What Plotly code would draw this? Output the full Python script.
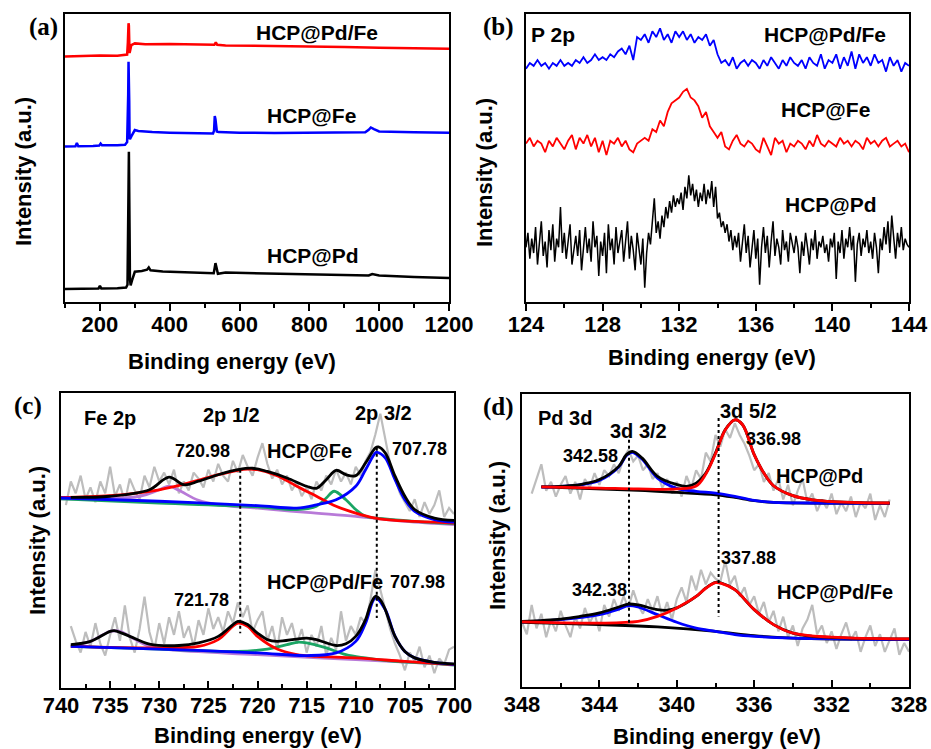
import numpy as np
import plotly.graph_objects as go

# ======================= DATA =======================
# ---- (a) survey spectra (x: eV, y: relative intensity 0-100) ----
a_red_x = [100,150,200,250,270,278,280,281,282,283,284,285,287,290,300,330,400,500,528,532,536,560,600,700,800,900,1000,1100,1200]
a_red_y = [85.2,85.4,85.6,85.5,85.7,85.9,90,95,96.8,96,91,86.5,87.5,89.2,89.8,89.5,89.6,89.3,89.3,90.2,89.3,89.1,89.0,88.8,88.6,88.5,88.3,88.1,87.9]
a_blue_x = [100,130,134,138,180,198,202,206,250,272,278,280,281,282,283,284,285,286,290,300,310,350,400,450,500,524,527,529,531,533,535,540,560,600,700,800,900,960,970,976,985,1000,1100,1200]
a_blue_y = [54.0,54.1,55.2,54.1,54.2,54.3,55.0,54.4,54.4,54.6,55.5,62,72,83.4,80,70,57,56.5,57.5,59.7,59.4,59.0,58.8,58.7,58.6,58.5,59.5,64.6,63.5,60,59.2,59.0,58.9,58.8,58.7,58.8,58.7,58.9,59.8,60.6,60.0,59.2,58.9,58.8]
a_black_x = [100,150,196,200,204,250,275,279,281,282,283,284,285,286,288,292,300,320,335,340,345,380,450,510,526,529,531,534,538,560,600,700,800,900,970,980,1000,1100,1200]
a_black_y = [4.5,4.6,4.7,5.6,4.7,4.8,5.0,6.0,20,40,52.2,45,25,8,5.8,7.5,10.5,10.8,11.2,12.0,11.0,10.6,10.3,10.1,10.0,12,13.5,12,9.8,10.2,10.1,9.8,9.6,9.3,9.2,9.7,9.2,8.7,8.3]

# ---- (b) P 2p ----
b_start = 124.0
b_blue_y = [81,83,82,84,82,83,81,83,82,84,82,
            83,82,84,83,85,83,84,86,84,85,
            84,86,85,87,88,86,89,84,92,
            91,93,90,94,92,95,91,93,90,94,
            92,94,91,93,90,92,91,93,89,91,
            86,83,84,82,85,81,83,84,82,84,
            83,81,84,82,85,83,81,84,82,85,
            83,82,84,81,85,83,82,86,81,84,
            83,86,81,85,82,87,81,86,83,85,
            82,86,83,84,80,85,82,84,80,83,82]
b_red_y = [55,57,54,56,55,52,56,54,57,55,53,
           56,58,53,57,55,58,54,57,52,56,
           51,56,55,57,54,56,53,52,55,
           56,57,56,60,59,63,61,66,69,70,
           71,73,74,71,70,68,64,66,61,59,
           57,59,54,53,56,58,55,54,56,55,
           53,52,57,54,51,57,55,56,52,55,
           54,56,55,53,56,54,58,55,54,56,
           55,54,57,55,56,54,56,55,53,57,
           55,56,54,56,57,54,55,56,54,55,52]
b_black_y = [19,24,15,22,17,26,13,20,28,16,
             21,12,25,18,27,14,22,19,33,17,
             24,15,21,27,13,19,23,16,25,11,
             20,26,17,22,14,28,19,23,9,21,
             16,24,10,27,18,22,13,26,17,21,
             25,14,20,28,15,23,18,11,24,19,
             13,22,5,17,24,20,27,36,24,28,
             22,30,26,33,29,35,31,37,33,36,
             34,38,32,40,36,44,37,41,35,39,
             33,38,35,41,34,39,36,42,33,40,
             29,31,26,28,24,27,21,25,18,23,
             19,24,14,22,27,17,23,12,20,25,
             15,22,6,19,26,17,23,12,21,28,
             16,22,19,13,25,18,21,14,24,20,
             17,23,19,10,21,16,24,19,13,22,
             18,25,15,21,19,23,17,20,14,22,
             19,24,8,21,17,25,15,22,19,26,
             18,23,7,20,24,16,22,19,25,17,
             21,15,24,19,10,22,18,26,20,28,
             17,30,21,15,24,19,26,18,22,20,
             19]

# ---- (c) Fe 2p ----
c_up_raw_start = 739.5
c_up_raw_y = [62,70,66,72,64,68,63,70,66,75,65,69,63,71,67,64,72,68,75,70,
              73,69,74,66,70,67,73,71,68,74,70,76,72,70,77,73,79,75,72,78,
              83,76,71,74,69,72,67,70,65,68,64,70,67,72,69,74,70,73,69,75,
              72,77,80,86,93,84,76,71,66,63,60,64,58,63,59,62,67,58,61,59]
c_up_env_x = [739,735,731,729,727.5,726,724,722,720.5,719,717,715,714,713,712,711,710,709,708,707.7,707,706,705,704,702,700]
c_up_env_y = [64.6,65.0,67.2,71.5,68.9,70.1,72.3,74.0,74.5,73.4,71.2,68.4,67.7,70.6,73.8,72.3,72.0,76.3,81.4,81.7,79.7,71.8,65.0,60.5,57.6,56.8]
c_up_red_x = [740,735,730,727,724,722,721,720,718,716,714,712,710,708,706,704,702,700]
c_up_red_y = [64.6,65.2,67.2,69.5,72.3,73.8,74.2,74.0,72.0,68.4,65.0,61.6,59.3,57.6,56.8,56.5,56.2,55.9]
c_up_blue_x = [740,730,720,716,714,712,710,709,708,707.8,707,706,705,704,702,700]
c_up_blue_y = [64.4,63.3,61.8,61.0,62.1,63.8,68.4,74.0,79.7,79.9,78.0,70.6,63.8,59.9,57.1,56.2]
c_up_green_x = [740,730,720,716,714,713,712.2,711,710,709,707,704,700]
c_up_green_y = [64.1,62.7,61.4,60.5,61.6,64.4,66.7,63.8,60.5,58.2,57.3,56.5,55.7]
c_up_purple_x = [740,732,730,729,728,726,724,720,715,710,705,700]
c_up_purple_y = [64.1,65.0,67.2,68.4,67.0,63.6,62.1,61.0,59.5,58.2,56.5,55.4]

c_lo_raw_start = 739.0
c_lo_raw_y = [21,16,12,19,14,22,15,11,18,24,16,28,17,12,20,31,19,13,22,15,
              24,18,26,17,21,14,23,18,27,20,24,19,26,22,29,24,28,19,23,26,
              16,21,13,24,18,22,15,20,12,18,14,21,11,17,13,26,16,21,18,24,
              22,30,40,33,27,20,15,11,6,12,9,14,7,11,5,10,8,13,14]
c_lo_env_x = [739,737,735,734.5,733,731,728,726,724,722.5,722,721,720,719,718,716,715,714,713,712,711,710,709,708.5,708,707.5,707,706,705,704,702,700]
c_lo_env_y = [14.7,15.8,19.2,19.4,17.5,14.9,14.4,15.3,17.5,21.5,22.6,21.5,18.6,16.4,15.8,16.6,16.9,16.4,15.3,14.4,15.0,17.5,23.2,28.2,31.1,29.9,26.6,17.5,12.4,10.2,8.7,8.2]
c_lo_red_x = [739,730,726,724,722,721,720,718,716,714,710,705,700]
c_lo_red_y = [14.1,13.6,14.1,16.4,22.0,20.9,17.5,13.2,11.3,10.7,10.2,9.0,7.9]
c_lo_blue_x = [739,730,720,715,712,710,709,708,707,706,705,704,702,700]
c_lo_blue_y = [14.1,13.2,11.9,11.0,11.9,15.8,22.0,30.5,26.6,17.5,12.4,10.2,8.7,8.0]
c_lo_green_x = [739,730,722,719,717,716,715,713,711,709,706,703,700]
c_lo_green_y = [14.1,13.2,12.4,13.2,14.7,15.5,15.3,13.6,11.3,10.2,9.0,8.5,7.8]
c_lo_purple_x = [739,737,735,734,733,731,729,720,710,700]
c_lo_purple_y = [14.4,15.8,19.2,19.2,17.5,14.1,13.0,11.3,9.6,7.9]
c_dot1_x = [721.76, 721.76]; c_dot1_y = [74.0, 18.6]
c_dot2_x = [707.86, 707.86]; c_dot2_y = [81.4, 23.7]

# ---- (d) Pd 3d ----
d_up_raw_start = 347.5
d_up_raw_y = [66,71,76,67,70,65,69,72,66,70,64,71,68,73,69,74,72,76,73,78,
              81,77,79,74,76,71,73,68,71,66,70,65,72,68,74,71,80,77,86,82,
              88,85,90,86,83,79,74,76,70,73,67,71,64,69,62,67,71,63,66,60,
              64,61,66,59,63,60,65,58,63,61,66,57,62,58,64]
d_up_env_x = [347,345,344,343,342.6,342.3,341.8,341,340,339.5,339,338.5,338,337.5,337,336.6,336,335.5,335,334,333,331,329]
d_up_env_y = [68.3,69.1,70.8,75.3,79.3,80.4,78.2,71.9,69.1,68.5,69.6,73.0,79.9,87.8,91.2,89.5,79.3,73.0,68.7,65.3,63.9,63.0,62.8]
d_up_red_x = [347,344,342,340,339,338.5,338,337.5,337,336.6,336,335.5,335,334,333,331,329]
d_up_red_y = [68.3,67.9,67.6,67.6,68.6,72.7,79.6,87.7,91.2,89.5,79.3,73.0,68.7,65.3,63.9,63.0,62.8]
d_up_blue_x = [347,345,344,343,342.6,342.3,341.8,341,340,339,338,337,336,335,333,329]
d_up_blue_y = [68.2,69.0,70.5,75.1,79.0,80.1,77.8,71.3,67.8,66.8,66.2,65.1,63.7,63.0,62.8,62.7]
d_up_base_x = [347,342,340,338,337,336,335,329]
d_up_base_y = [68.3,67.1,66.4,65.6,64.7,63.6,63.0,62.7]

d_lo_raw_start = 348.0
d_lo_raw_y = [22,18,28,20,25,17,23,19,26,21,17,24,20,27,22,25,19,28,24,30,
              26,31,27,33,28,25,30,26,31,24,29,23,30,34,29,38,33,40,35,39,
              37,36,43,35,38,31,34,28,31,25,29,22,26,19,24,17,21,14,20,23,
              28,18,21,15,19,13,18,22,16,19,12,17,21,14,18,12,16,20,11,15,12]
d_lo_env_x = [348,346,345,344,343,342.5,342,341,340.5,340,339,338.5,338,337.7,337,336,335,334,333,331,328]
d_lo_env_y = [22.4,23.2,24.1,25.3,27.3,28.3,28.0,26.4,26.2,27.0,30.9,33.8,35.7,35.5,33.2,26.4,21.3,18.4,17.3,16.7,16.4]
d_lo_red_x = [348,344,342,341,340,339,338.5,338,337.7,337,336,335,334,332,328]
d_lo_red_y = [22.2,21.8,22.4,24.1,27.0,30.9,33.7,35.6,35.4,33.2,26.4,21.3,18.4,17.0,16.4]
d_lo_blue_x = [348,346,344,343,342.5,342,341,340,339,338,337,336,334,328]
d_lo_blue_y = [22.2,23.0,24.7,26.6,27.8,27.3,24.7,22.1,20.1,19.0,17.9,17.3,16.7,16.2]
d_lo_base_x = [348,344,341,338,336,334,328]
d_lo_base_y = [22.1,21.3,20.5,19.0,17.5,16.7,16.2]
d_dot1_x = [342.47, 342.47]; d_dot1_y = [84.4, 20.7]
d_dot2_x = [337.84, 337.84]; d_dot2_y = [91.8, 24.1]

# ======================= FIGURE =======================
W, H = 931, 749
FONT = "Arial, 'Liberation Sans', sans-serif"
RED, BLUE, BLACK = '#ff0000', '#0000ff', '#000000'
GRAY, GREEN, PURPLE = '#bdbdbd', '#1aa564', '#b87ad8'

fig = go.Figure()

def add(x, y, ax, color, width, shape='linear', dash=None):
    fig.add_trace(go.Scatter(
        x=x, y=y, xaxis='x' + ax, yaxis='y' + ax, mode='lines',
        line=dict(color=color, width=width, shape=shape, dash=dash),
        showlegend=False, hoverinfo='skip'))

def grid(start, step, n):
    return start + step * np.arange(n)

# (a)
add(a_red_x, a_red_y, '', RED, 2.5)
add(a_blue_x, a_blue_y, '', BLUE, 2.5)
add(a_black_x, a_black_y, '', BLACK, 2.5)

# (b)
add(grid(b_start, 0.2, len(b_blue_y)), b_blue_y, '2', BLUE, 1.8)
add(grid(b_start, 0.2, len(b_red_y)), b_red_y, '2', RED, 1.8)
add(grid(b_start, 0.1, len(b_black_y)), b_black_y, '2', BLACK, 1.5)

# (c)
add(grid(c_up_raw_start, -0.5, len(c_up_raw_y)), c_up_raw_y, '3', GRAY, 2.2)
add(grid(c_lo_raw_start, -0.5, len(c_lo_raw_y)), c_lo_raw_y, '3', GRAY, 2.2)
for xs, ys, col in [(c_up_purple_x, c_up_purple_y, PURPLE), (c_up_green_x, c_up_green_y, GREEN),
                    (c_up_red_x, c_up_red_y, RED), (c_up_blue_x, c_up_blue_y, BLUE),
                    (c_up_env_x, c_up_env_y, BLACK),
                    (c_lo_purple_x, c_lo_purple_y, PURPLE), (c_lo_green_x, c_lo_green_y, GREEN),
                    (c_lo_red_x, c_lo_red_y, RED), (c_lo_blue_x, c_lo_blue_y, BLUE),
                    (c_lo_env_x, c_lo_env_y, BLACK)]:
    add(xs, ys, '3', col, 2.8, 'spline')
add(c_dot1_x, c_dot1_y, '3', BLACK, 2, dash='dot')
add(c_dot2_x, c_dot2_y, '3', BLACK, 2, dash='dot')

# (d)
add(grid(d_up_raw_start, -0.25, len(d_up_raw_y)), d_up_raw_y, '4', GRAY, 2.2)
add(grid(d_lo_raw_start, -0.25, len(d_lo_raw_y)), d_lo_raw_y, '4', GRAY, 2.2)
for xs, ys, col in [(d_up_base_x, d_up_base_y, BLACK), (d_up_blue_x, d_up_blue_y, BLUE),
                    (d_up_env_x, d_up_env_y, BLACK), (d_up_red_x, d_up_red_y, RED),
                    (d_lo_base_x, d_lo_base_y, BLACK), (d_lo_blue_x, d_lo_blue_y, BLUE),
                    (d_lo_env_x, d_lo_env_y, BLACK), (d_lo_red_x, d_lo_red_y, RED)]:
    add(xs, ys, '4', col, 2.8, 'spline')
add(d_dot1_x, d_dot1_y, '4', BLACK, 2, dash='dot')
add(d_dot2_x, d_dot2_y, '4', BLACK, 2, dash='dot')

# ---- axes ----
def xdom(l, r):
    return [l / W, r / W]

def ydom(t, b):
    return [1 - b / H, 1 - t / H]

def xax(domain, anchor, rng, dtick, mdtick, ticks, standoff):
    return dict(domain=domain, anchor=anchor, range=rng, dtick=dtick, tick0=0,
                showline=True, mirror=True, linecolor='black', linewidth=2,
                ticks=ticks, ticklen=7, tickwidth=2, tickcolor='black',
                minor=dict(dtick=mdtick, tick0=0, ticks=ticks, ticklen=4, tickwidth=2, tickcolor='black'),
                tickfont=dict(family=FONT, size=22, color='black', weight='bold'),
                ticklabelstandoff=standoff, automargin=False,
                showgrid=False, zeroline=False, fixedrange=True)

def yax(domain, anchor):
    return dict(domain=domain, anchor=anchor, range=[0, 100], showline=True, mirror=True,
                linecolor='black', linewidth=2, ticks='', showticklabels=False, automargin=False,
                showgrid=False, zeroline=False, fixedrange=True)

layout = dict(
    width=W, height=H, autosize=False,
    margin=dict(l=0, r=0, t=0, b=0, pad=0, autoexpand=False),
    paper_bgcolor='white', plot_bgcolor='white', showlegend=False,
    xaxis=xax(xdom(65, 449), 'y', [100, 1200], 200, 100, 'outside', -5),
    yaxis=yax(ydom(14, 302), 'x'),
    xaxis2=xax(xdom(526, 909), 'y2', [124, 144], 4, 2, 'outside', -5),
    yaxis2=yax(ydom(14, 302), 'x2'),
    xaxis3=xax(xdom(61, 454), 'y3', [740, 700], 5, 2.5, 'inside', -3),
    yaxis3=yax(ydom(393, 688), 'x3'),
    xaxis4=xax(xdom(522, 909), 'y4', [348, 328], 4, 2, 'inside', -3),
    yaxis4=yax(ydom(394, 687), 'x4'),
)
fig.update_layout(**layout)

ann = []
def txt(text, x, y, ax, size=21, xanchor='center'):
    ann.append(dict(text='<b>%s</b>' % text, x=x, y=y, xref='x' + ax, yref='y' + ax,
                    showarrow=False, xanchor=xanchor, yanchor='middle',
                    font=dict(family=FONT, size=size, color='black')))

def ptxt(text, px, py, size=22, angle=0, family=FONT):
    ann.append(dict(text='<b>%s</b>' % text, x=px / W, y=1 - py / H, xref='paper', yref='paper',
                    showarrow=False, xanchor='center', yanchor='middle', textangle=angle,
                    font=dict(family=family, size=size, color='black')))

# sample / peak labels
txt('HCP@Pd/Fe', 822, 93.7, '')
txt('HCP@Fe', 805, 64.6, '')
txt('HCP@Pd', 810, 16.3, '')

txt('P 2p', 124.15, 93, '2', 21, 'left')
txt('HCP@Pd/Fe', 139.6, 93, '2')
txt('HCP@Fe', 139.65, 66.7, '2')
txt('HCP@Pd', 139.93, 33.7, '2')

txt('Fe 2p', 735.0, 91.5, '3', 20)
txt('2p 1/2', 722.6, 92.7, '3', 20)
txt('2p 3/2', 707.15, 93.2, '3', 20)
txt('720.98', 725.6, 80.2, '3', 18)
txt('HCP@Fe', 714.7, 80.5, '3', 20)
txt('707.78', 703.5, 81.1, '3', 18)
txt('721.78', 725.7, 29.9, '3', 18)
txt('HCP@Pd/Fe', 713.1, 35.9, '3', 20)
txt('707.98', 703.7, 35.9, '3', 18)

txt('Pd 3d', 345.8, 91.8, '4', 20)
txt('3d 3/2', 342.0, 87.3, '4', 20)
txt('3d 5/2', 336.3, 94.1, '4', 20)
txt('336.98', 335.0, 84.8, '4', 18)
txt('342.58', 344.45, 79.0, '4', 18)
txt('HCP@Pd', 332.6, 72.1, '4', 20)
txt('337.88', 336.3, 44.0, '4', 18)
txt('342.38', 343.97, 33.2, '4', 18)
txt('HCP@Pd/Fe', 331.8, 32.3, '4', 20)

# axis titles
for px, py in [(232, 361), (712, 358), (258, 735), (717, 736)]:
    ptxt('Binding energy (eV)', px, py, 22)
for px, py in [(24, 172), (485, 172), (37, 541), (497, 536)]:
    ptxt('Intensity (a.u.)', px, py, 22, angle=-90)

# panel letters
SERIF = "'Times New Roman', 'Liberation Serif', serif"
for t, px, py in [('(a)', 43, 27), ('(b)', 499, 27), ('(c)', 28, 406), ('(d)', 499, 407)]:
    ptxt(t, px, py, 25, family=SERIF)

fig.update_layout(annotations=ann)
fig.write_html('out.html', config={'displayModeBar': False},
               post_script="document.body.style.margin='0px';document.body.style.overflow='hidden';")
